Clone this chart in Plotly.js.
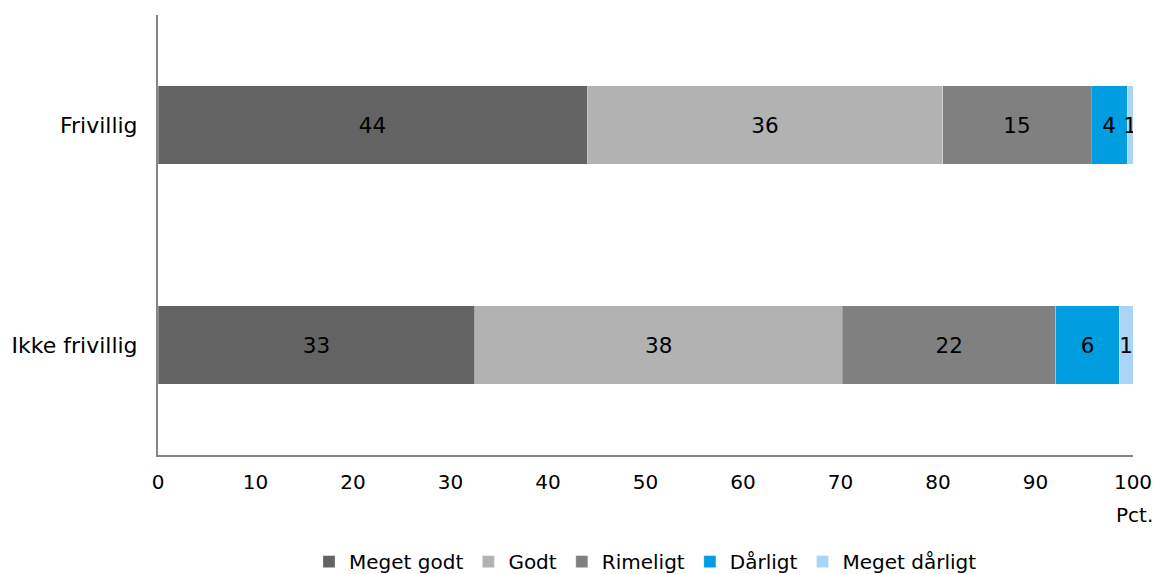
<!DOCTYPE html>
<html>
<head>
<meta charset="utf-8">
<script src="https://cdn.plot.ly/plotly-3.0.1.min.js"></script>
<style>html,body{margin:0;padding:0;background:#fff;}#chart{width:1155px;height:574px;}</style>
</head>
<body>
<div id="chart"></div>
<script>
const categories = ["Frivillig", "Ikke frivillig"];
const seriesNames = ["Meget godt", "Godt", "Rimeligt", "Dårligt", "Meget dårligt"];
const megetGodt = [44.0, 32.5];
const godt = [36.5, 37.7];
const rimeligt = [15.2, 21.9];
const daarligt = [3.7, 6.5];
const megetDaarligt = [0.6, 1.4];
const labelsMegetGodt = ["44", "33"];
const labelsGodt = ["36", "38"];
const labelsRimeligt = ["15", "22"];
const labelsDaarligt = ["4", "6"];
const labelsMegetDaarligt = ["1", "1"];
const xTicks = [0, 10, 20, 30, 40, 50, 60, 70, 80, 90, 100];
const colors = ["#636363", "#b2b2b2", "#808080", "#009ee0", "#aad4f5"];

const values = [megetGodt, godt, rimeligt, daarligt, megetDaarligt];
const labels = [labelsMegetGodt, labelsGodt, labelsRimeligt, labelsDaarligt, labelsMegetDaarligt];
const font = "DejaVu Sans, Verdana, sans-serif";
const fs = 20;

const traces = seriesNames.map((name, i) => ({
  type: "bar",
  orientation: "h",
  name: name,
  y: categories,
  x: values[i],
  text: labels[i],
  textposition: "inside",
  insidetextanchor: "middle",
  textangle: 0,
  constraintext: "none",
  textfont: {family: font, size: 21.5, color: "#000"},
  hoverinfo: "x+y+name",
  width: 0.355,
  marker: {color: colors[i], line: {color: "rgba(255,255,255,0.5)", width: 0.5}}
}));

const layout = {
  width: 1155, height: 574,
  barmode: "stack",
  paper_bgcolor: "#fff", plot_bgcolor: "#fff",
  margin: {l: 158, r: 22, t: 15, b: 119, autoexpand: false},
  font: {family: font, size: fs, color: "#000"},
  showlegend: true,
  legend: {orientation: "h", x: 0.5, xanchor: "center", y: -0.198, yanchor: "top",
           font: {family: font, size: 20, color: "#000"}, traceorder: "normal", itemwidth: 30},
  xaxis: {range: [0, 100], tickvals: xTicks, ticktext: xTicks.map(String), showgrid: false,
          zeroline: false, showline: true, linecolor: "#868686", linewidth: 2, ticks: "",
          ticklabelstandoff: 8, tickfont: {family: font, size: fs, color: "#000"}, fixedrange: true,
          automargin: false},
  yaxis: {autorange: "reversed", showgrid: false, zeroline: false, showline: true,
          linecolor: "#868686", linewidth: 2, ticks: "", ticklabelstandoff: 14, automargin: false,
          tickfont: {family: font, size: 22, color: "#000"}},
  annotations: [{text: "Pct.", xref: "paper", yref: "paper", x: 1.002, y: -0.104, xanchor: "center", yanchor: "top",
                 showarrow: false, font: {family: font, size: fs, color: "#000"}}]
};

Plotly.newPlot("chart", traces, layout, {displayModeBar: false, staticPlot: true});
</script>
</body>
</html>
